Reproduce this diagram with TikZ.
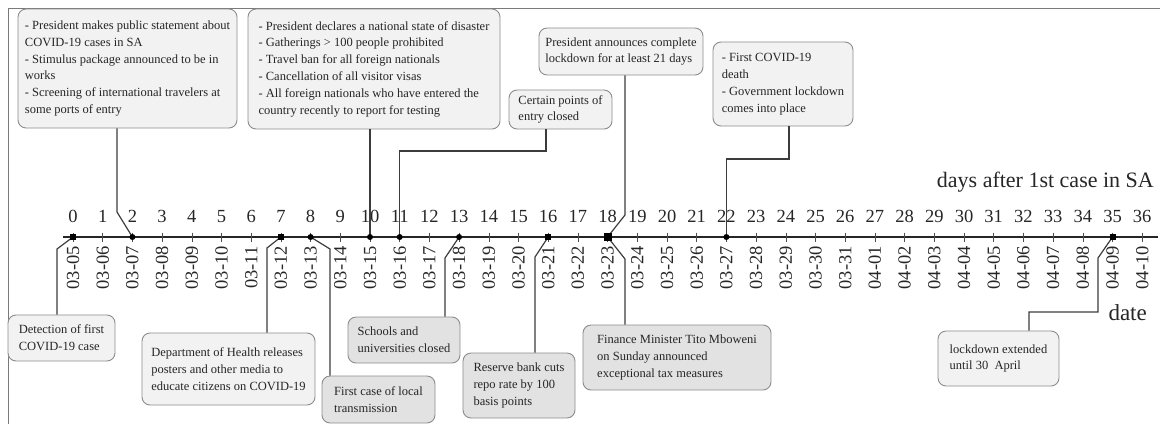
\documentclass[tikz,border=0pt]{standalone}
\usepackage{fontspec}
\setmainfont{Liberation Serif}
\definecolor{boxline}{HTML}{8C8C8C}
\definecolor{lightfill}{HTML}{F2F2F2}
\definecolor{darkfill}{HTML}{E2E2E2}
\definecolor{connc}{HTML}{3C3C3C}
\definecolor{txt}{HTML}{262626}
\definecolor{framec}{HTML}{7A7A7A}
\newcommand\evfont{\fontsize{12.5}{16.8}\selectfont}
\newcommand\tlfont{\fontsize{18.5}{20}\selectfont}
\tikzset{
  evbox/.style={draw=boxline, rounded corners=8pt, fill=lightfill, align=left,
    font=\evfont, text=txt, inner sep=0pt, line width=0.9pt},
  evdark/.style={evbox, fill=darkfill},
  conn/.style={draw=connc, line width=1.2pt},
  axisline/.style={draw=black!85, line width=1.2pt},
  tickmark/.style={draw=black!70, line width=0.6pt},
  daylab/.style={font=\tlfont, text=txt, anchor=base, inner sep=0pt},
  datelab/.style={font=\tlfont, text=txt, rotate=90, anchor=east, inner sep=0pt},
  dotmark/.style={fill=black},
}
\begin{document}
\begin{tikzpicture}[x=1pt,y=-1pt]
\useasboundingbox (0,0) rectangle (1160,424);
% frame
\draw[framec, line width=0.9pt] (8,424) -- (8,8) -- (1160,8);

% axis coordinates
\foreach \i in {0,...,36} {
  \coordinate (d\i) at ({73+\i*29.7},237);
}
\coordinate (axl) at (63,237);
\coordinate (axr) at (1158,237);
\draw[axisline] (axl) -- (axr);
\foreach \i in {0,...,36} {
  \draw[tickmark] ([yshift=4.5pt]d\i) -- ([yshift=-4.5pt]d\i);
  \node[daylab] (n\i) at ({73+\i*29.7},222) {\i};
}
\foreach \i/\dt in {0/03-05,1/03-06,2/03-07,3/03-08,4/03-09,5/03-10,6/03-11,7/03-12,8/03-13,9/03-14,10/03-15,11/03-16,12/03-17,13/03-18,14/03-19,15/03-20,16/03-21,17/03-22,18/03-23,19/03-24,20/03-25,21/03-26,22/03-27,23/03-28,24/03-29,25/03-30,26/03-31,27/04-01,28/04-02,29/04-03,30/04-04,31/04-05,32/04-06,33/04-07,34/04-08,35/04-09,36/04-10} {
  \node[datelab] (t\i) at ({73+\i*29.7},246) {\dt};
}

\node[font=\fontsize{22}{24}\selectfont, text=txt, anchor=base east, inner sep=0pt] (daysax) at (1154,187) {days after 1st case in SA};
\node[font=\fontsize{23}{25}\selectfont, text=txt, anchor=base east, inner sep=0pt] (dateax) at (1147,320) {date};

% event boxes (top)
\node[evbox, minimum width=219pt, minimum height=119pt] (b1) at (127.5,68.5)
  {- President makes public statement about\\COVID-19 cases in SA\\- Stimulus package announced to be in\\works\\- Screening of international travelers at\\some ports of entry};
\node[evbox, minimum width=252pt, minimum height=120pt] (b2) at (374,69)
  {- President declares a national state of disaster\\- Gatherings > 100 people prohibited\\- Travel ban for all foreign nationals\\- Cancellation of all visitor visas\\- All foreign nationals who have entered the\\country recently to report for testing};
\node[evbox, minimum width=103pt, minimum height=39pt] (b3) at (560.5,109.5)
  {Certain points of\\entry closed};
\node[evbox, minimum width=164pt, minimum height=47pt] (b4) at (621,51.5)
  {President announces complete\\lockdown for at least 21 days};
\node[evbox, minimum width=140pt, minimum height=84pt] (b5) at (783,84)
  {- First COVID-19\\death\\- Government lockdown\\comes into place};

% event boxes (bottom)
\node[evbox, minimum width=107pt, minimum height=46pt] (b6) at (61.5,338)
  {Detection of first\\COVID-19 case};
\node[evbox, minimum width=173pt, minimum height=72pt] (b7) at (228.5,369)
  {Department of Health releases\\posters and other media to\\educate citizens on COVID-19};
\node[evdark, minimum width=113pt, minimum height=47pt] (b8) at (378.5,399.5)
  {First case of local\\transmission};
\node[evdark, minimum width=112pt, minimum height=46pt] (b9) at (404,340)
  {Schools and\\universities closed};
\node[evdark, minimum width=112pt, minimum height=65pt] (b10) at (519,385.5)
  {Reserve bank cuts\\repo rate by 100\\basis points};
\node[evdark, minimum width=188pt, minimum height=65pt] (b11) at (677,357.5)
  {Finance Minister Tito Mboweni\\on Sunday announced\\exceptional tax measures};
\node[evbox, minimum width=121pt, minimum height=55pt] (b12) at (998.5,358.5)
  {lockdown extended\\until 30~ April};

% bend coordinates
\coordinate (k1) at (117,212);
\coordinate (k3) at (546,151);
\coordinate (k4) at (625,215);
\coordinate (k5) at (789,159);
\coordinate (k6) at (57,249);
\coordinate (k7) at (267,248);
\coordinate (k8) at (330,249);
\coordinate (k9) at (445,258);
\coordinate (k10) at (535,257);
\coordinate (k11) at (625,259);
\coordinate (k12) at (1029,312);
\coordinate (k12b) at (1098,312);
\coordinate (k12c) at (1098,258);

% connectors
\draw[conn] (b1.south -| k1) -- (k1) -- (d2);
\draw[conn] (b2.south -| d10) -- (d10);
\draw[conn] (b3.south -| k3) -- (k3) -- (k3 -| d11) -- (d11);
\draw[conn] (b4.south -| k4) -- (k4) -- (d18);
\draw[conn] (b5.south -| k5) -- (k5) -- (k5 -| d22) -- (d22);
\draw[conn] (b6.north -| k6) -- (k6) -- (d0);
\draw[conn] (b7.north -| k7) -- (k7) -- (d7);
\draw[conn] (b8.north -| k8) -- (k8) -- (d8);
\draw[conn] (b9.north -| k9) -- (k9) -- (d13);
\draw[conn] (b10.north -| k10) -- (k10) -- (d16);
\draw[conn] (b11.north -| k11) -- (k11) -- (d18);
\draw[conn] (b12.north -| k12) -- (k12) -- (k12b) -- (k12c) -- (d35);

% markers
\foreach \i in {2,8,10,11,13,22} {
  \fill[dotmark] (d\i) circle (3pt);
}
\foreach \i in {0,7,16,35} {
  \fill[dotmark] ([xshift=-3pt,yshift=-3pt]d\i) rectangle ([xshift=3pt,yshift=3pt]d\i);
}
\fill[dotmark] ([xshift=-4pt,yshift=-4pt]d18) rectangle ([xshift=4pt,yshift=4pt]d18);
\end{tikzpicture}
\end{document}
